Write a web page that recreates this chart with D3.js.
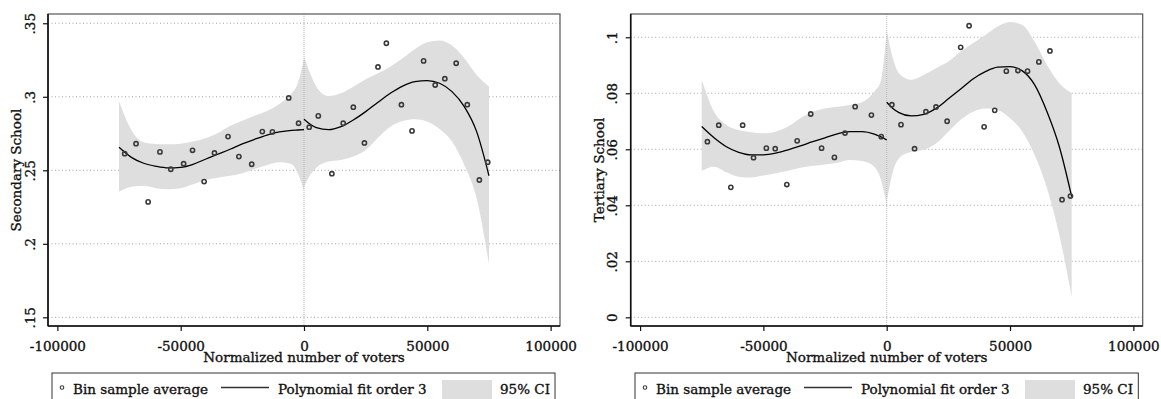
<!DOCTYPE html>
<html>
<head>
<meta charset="utf-8">
<script src="https://cdn.jsdelivr.net/npm/d3@7"></script>
<style>
  body { margin: 0; background: #fff; }
  svg text { font-family: "DejaVu Serif", serif; fill: #111; stroke: #111; stroke-width: 0.35px; }
</style>
</head>
<body>
<svg id="chart" width="1161" height="399"></svg>
<script>
// bin centres (normalized number of voters), shared by both panels
const binX = [-72700, -68100, -63200, -58400, -54000, -48800, -45200, -40500, -36300, -30800, -26400,
  -21200, -16900, -12800, -6200, -2200, 2100, 5800, 11300, 15900, 20000, 24500, 30000, 33400,
  39500, 43800, 48500, 53200, 57100, 61700, 66200, 71100, 74500];

const secondaryBins = [.2613, .2681, .2285, .2625, .2507, .2545, .2636, .2423, .2618, .2729, .2593,
  .2541, .2763, .2761, .2992, .2820, .2793, .2870, .2477, .2820, .2929, .2686, .3203, .3364,
  .2946, .2768, .3244, .3080, .3123, .3228, .2946, .2434, .2555];

const tertiaryBins = [.0627, .0686, .0464, .0686, .0570, .0604, .0602, .0474, .0630, .0726, .0604,
  .0571, .0658, .0752, .0722, .0645, .0759, .0688, .0602, .0734, .0751, .0700, .0964, .1041,
  .0680, .0739, .0879, .0881, .0879, .0912, .0951, .0420, .0433];

// x positions where the fitted curve / CI were read
const fitXLeft = [-75000, -70000, -65000, -60000, -55000, -50000, -45000, -40000, -35000, -30000,
  -25000, -20000, -15000, -10000, -5000, -2500, 0];
const fitXRight = [0, 2500, 5000, 10000, 15000, 20000, 25000, 30000, 35000, 40000, 45000, 50000,
  55000, 60000, 65000, 70000, 75000];

const secondaryFitL = [.2656, .2588, .2548, .2527, .2516, .2520, .2541, .2575, .2609, .2643, .2679, .2711, .2740, .2761, .2772, .2774, .2776];
const secondaryHiL = [.2971, .2774, .2690, .2679, .2677, .2681, .2695, .2718, .2752, .2801, .2837, .2871, .2903, .2951, .3024, .3092, .3262];
const secondaryLoL = [.2354, .2388, .2395, .2378, .2371, .2378, .2405, .2434, .2450, .2463, .2480, .2509, .2536, .2554, .2541, .2480, .2361];
const secondaryFitR = [.2847, .2813, .2790, .2776, .2797, .2842, .2899, .2963, .3024, .3073, .3103, .3110, .3092, .3035, .2933, .2763, .2463];
const secondaryHiR = [.3273, .3160, .3069, .3005, .3024, .3069, .3119, .3160, .3205, .3262, .3325, .3371, .3382, .3348, .3262, .3148, .3069];
const secondaryLoR = [.2388, .2468, .2518, .2559, .2570, .2593, .2638, .2722, .2797, .2835, .2847, .2831, .2781, .2695, .2536, .2310, .1861];

const tertiaryFitL = [.0681, .0641, .0609, .0589, .0580, .0580, .0586, .0598, .0612, .0627, .0641, .0655, .0663, .0663, .0654, .0645, .0633];
const tertiaryHiL = [.0848, .0734, .0687, .0669, .0661, .0657, .0663, .0681, .0711, .0734, .0746, .0752, .0758, .0768, .0806, .0841, .1020];
const tertiaryLoL = [.0523, .0538, .0518, .0502, .0499, .0506, .0514, .0523, .0534, .0541, .0546, .0552, .0562, .0558, .0538, .0496, .0401];
const tertiaryFitR = [.0768, .0746, .0731, .0719, .0725, .0746, .0780, .0815, .0851, .0877, .0893, .0895, .0880, .0830, .0734, .0609, .0431];
const tertiaryHiR = [.1026, .0925, .0871, .0848, .0865, .0889, .0913, .0949, .0979, .1008, .1038, .1054, .1044, .0984, .0901, .0836, .0800];
const tertiaryLoR = [.0413, .0520, .0568, .0591, .0598, .0621, .0663, .0705, .0734, .0746, .0740, .0711, .0663, .0580, .0461, .0294, .0074];

const xTicks = [-100000, -50000, 0, 50000, 100000];
const xTickLabels = ['-100000', '-50000', '0', '50000', '100000'];
const secondaryTicks = [.15, .2, .25, .3, .35];
const secondaryTickLabels = ['.15', '.2', '.25', '.3', '.35'];
const tertiaryTicks = [0, .02, .04, .06, .08, .1];
const tertiaryTickLabels = ['0', '.02', '.04', '.06', '.08', '.1'];
const legendLabels = ['Bin sample average', 'Polynomial fit order 3', '95% CI'];

const svg = d3.select('#chart');
const W = 512, H = 312, panelTop = 14;

function panel(opt) {
  const g = svg.append('g').attr('transform', 'translate(' + opt.left + ',' + panelTop + ')');
  const x = d3.scaleLinear().domain([-103800, 103800]).range([0, W]);
  const y = d3.scaleLinear().domain(opt.yDomain).range([H, 0]);

  // horizontal dotted grid
  g.selectAll('.grid').data(opt.ticks).enter().append('line')
    .attr('x1', 0).attr('x2', W)
    .attr('y1', d => y(d)).attr('y2', d => y(d))
    .attr('stroke', '#8c8c8c').attr('stroke-width', 0.8).attr('stroke-dasharray', '1,2.5');

  const area = d3.area().curve(d3.curveMonotoneX)
    .x(d => x(d[0])).y0(d => y(d[1])).y1(d => y(d[2]));
  const line = d3.line().curve(d3.curveMonotoneX)
    .x(d => x(d[0])).y(d => y(d[1]));

  [[fitXLeft, opt.fitL, opt.loL, opt.hiL], [fitXRight, opt.fitR, opt.loR, opt.hiR]].forEach(s => {
    const rows = s[0].map((v, i) => [v, s[2][i], s[3][i]]);
    g.append('path').attr('d', area(rows)).attr('fill', '#dedede');
  });

  // vertical dotted line at the cutoff
  g.append('line').attr('x1', x(0)).attr('x2', x(0)).attr('y1', 0).attr('y2', H)
    .attr('stroke', '#aaa').attr('stroke-width', 0.8).attr('stroke-dasharray', '1,1');

  [[fitXLeft, opt.fitL], [fitXRight, opt.fitR]].forEach(s => {
    g.append('path').attr('d', line(s[0].map((v, i) => [v, s[1][i]])))
      .attr('fill', 'none').attr('stroke', '#000').attr('stroke-width', 1.3);
  });

  g.selectAll('.pt').data(binX).enter().append('circle')
    .attr('cx', d => x(d)).attr('cy', (d, i) => y(opt.bins[i]))
    .attr('r', 2.1).attr('fill', 'none').attr('stroke', '#3a3a3a').attr('stroke-width', 1.6);

  // frame
  g.append('rect').attr('x', 0).attr('y', 0).attr('width', W).attr('height', H)
    .attr('fill', 'none').attr('stroke', '#555').attr('stroke-width', 1.2);

  const xa = g.append('g').attr('transform', 'translate(0,' + H + ')')
    .call(d3.axisBottom(x).tickValues(xTicks).tickSize(5).tickPadding(6)
      .tickFormat((d, i) => xTickLabels[i]));
  xa.select('.domain').attr('stroke', '#111').attr('stroke-width', 1.6).attr('d', 'M0,0H' + W);
  xa.selectAll('.tick line').attr('stroke', '#111').attr('stroke-width', 1.2);
  xa.selectAll('text').attr('font-size', 13.5).attr('fill', '#111').attr('dy', '1.05em')
    .attr('font-family', '"DejaVu Serif", serif');

  const ya = g.append('g').call(d3.axisLeft(y).tickValues(opt.ticks).tickSize(5)
    .tickFormat((d, i) => opt.tickLabels[i]));
  ya.select('.domain').attr('stroke', '#111').attr('stroke-width', 1.6).attr('d', 'M0,0V' + H);
  ya.selectAll('.tick line').attr('stroke', '#111').attr('stroke-width', 1.2);
  ya.selectAll('text').attr('font-size', 13.5).attr('fill', '#111')
    .attr('font-family', '"DejaVu Serif", serif')
    .attr('x', null).attr('dy', null)
    .attr('text-anchor', 'middle')
    .attr('transform', 'translate(-13.5,0) rotate(-90)');

  g.append('text').attr('text-anchor', 'middle').attr('font-size', 13.5)
    .attr('transform', 'translate(-27,' + H / 2 + ') rotate(-90)')
    .text(opt.yTitle);

  g.append('text').attr('text-anchor', 'middle').attr('font-size', 13.5)
    .attr('x', W / 2).attr('y', 347.5)
    .text('Normalized number of voters');

  // legend
  const lg = g.append('g').attr('transform', 'translate(' + (opt.legendX) + ',359)');
  lg.append('rect').attr('x', 0).attr('y', 0).attr('width', opt.legendW).attr('height', 40)
    .attr('fill', '#fff').attr('stroke', '#333').attr('stroke-width', 1);
  lg.append('circle').attr('cx', 10).attr('cy', 14.5).attr('r', 1.8)
    .attr('fill', 'none').attr('stroke', '#3a3a3a').attr('stroke-width', 1.1);
  lg.append('text').attr('x', 21).attr('y', 21).attr('font-size', 13.5).text(legendLabels[0]);
  lg.append('line').attr('x1', 169).attr('x2', 217).attr('y1', 14.5).attr('y2', 14.5)
    .attr('stroke', '#333').attr('stroke-width', 1.3);
  lg.append('text').attr('x', 226).attr('y', 21).attr('font-size', 13.5).text(legendLabels[1]);
  lg.append('rect').attr('x', 390).attr('y', 7).attr('width', 50).attr('height', 30).attr('fill', '#dedede');
  lg.append('text').attr('x', 448).attr('y', 21).attr('font-size', 13.5).text(legendLabels[2]);
}

panel({
  left: 48, yDomain: [.1441, .3563], ticks: secondaryTicks, tickLabels: secondaryTickLabels,
  bins: secondaryBins, fitL: secondaryFitL, loL: secondaryLoL, hiL: secondaryHiL,
  fitR: secondaryFitR, loR: secondaryLoR, hiR: secondaryHiR,
  yTitle: 'Secondary School', legendX: 4, legendW: 503
});
panel({
  left: 630.7, yDomain: [-.0031, .1083], ticks: tertiaryTicks, tickLabels: tertiaryTickLabels,
  bins: tertiaryBins, fitL: tertiaryFitL, loL: tertiaryLoL, hiL: tertiaryHiL,
  fitR: tertiaryFitR, loR: tertiaryLoR, hiR: tertiaryHiR,
  yTitle: 'Tertiary School', legendX: 4.3, legendW: 503.3
});
</script>
</body>
</html>
